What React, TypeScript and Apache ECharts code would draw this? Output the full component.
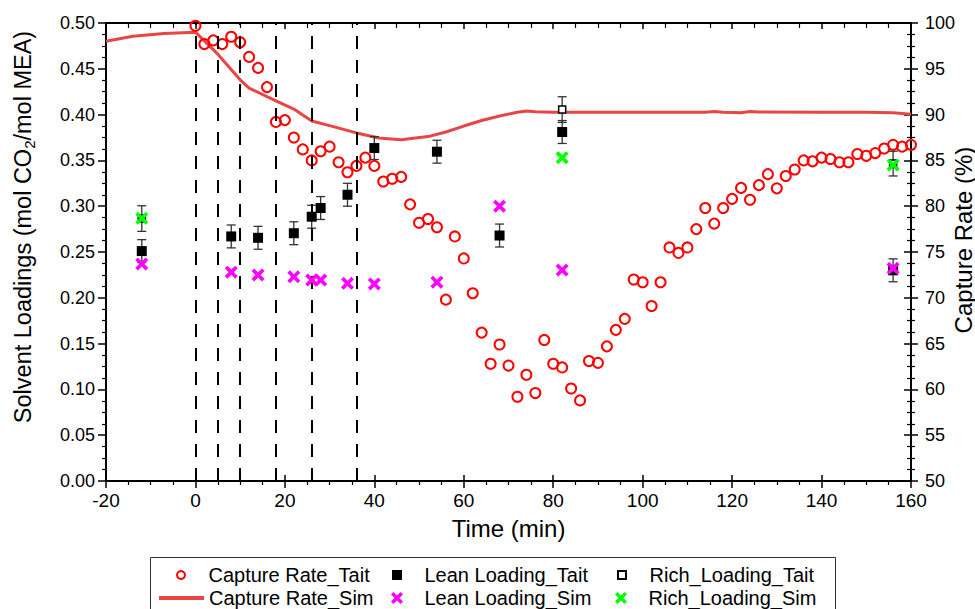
import React, { useEffect, useRef } from "react";
import * as echarts from "echarts";

const FONT = '"Liberation Sans", Arial, Helvetica, sans-serif';

// Capture Rate_Tait (right axis, %)
const captureTime = [0, 2, 4, 6, 8, 10, 12, 14, 16, 18, 20, 22, 24, 26, 28, 30, 32, 34, 36, 38, 40, 42, 44, 46, 48, 50, 52, 54, 56, 58, 60, 62, 64, 66, 68, 70, 72, 74, 76, 78, 80, 82, 84, 86, 88, 90, 92, 94, 96, 98, 100, 102, 104, 106, 108, 110, 112, 114, 116, 118, 120, 122, 124, 126, 128, 130, 132, 134, 136, 138, 140, 142, 144, 146, 148, 150, 152, 154, 156, 158, 160];
const captureTait = [99.7, 97.7, 98.1, 97.7, 98.5, 97.9, 96.3, 95.1, 93.0, 89.2, 89.4, 87.5, 86.2, 85.0, 86.0, 86.5, 84.8, 83.7, 84.4, 85.3, 84.4, 82.7, 83.0, 83.2, 80.2, 78.2, 78.6, 77.7, 69.8, 76.7, 74.3, 70.5, 66.2, 62.8, 64.9, 62.6, 59.2, 61.6, 59.6, 65.4, 62.8, 62.4, 60.1, 58.8, 63.1, 62.9, 64.7, 66.5, 67.7, 72.0, 71.7, 69.1, 71.7, 75.5, 74.9, 75.5, 77.5, 79.8, 78.1, 79.8, 80.8, 82.0, 80.7, 82.3, 83.5, 81.95, 83.3, 84.0, 85.0, 84.9, 85.3, 85.15, 84.8, 84.8, 85.7, 85.5, 85.8, 86.3, 86.7, 86.5, 86.7];

// Capture Rate_Sim (right axis, %)
const simTime = [-20, -14, -7, 0, 5, 10, 12, 18, 22, 26, 30, 36, 41, 46, 52, 56, 60, 64, 68, 72, 74, 76, 80, 90, 100, 110, 114, 116, 118, 122, 124, 126, 140, 150, 156, 160];
const captureSim = [98.0, 98.55, 98.85, 99.0, 96.6, 93.8, 92.9, 91.5, 90.6, 89.3, 88.8, 88.0, 87.45, 87.25, 87.6, 88.1, 88.75, 89.35, 89.85, 90.25, 90.4, 90.3, 90.25, 90.25, 90.25, 90.25, 90.25, 90.35, 90.25, 90.2, 90.35, 90.28, 90.25, 90.25, 90.2, 90.05];

// Lean loading (left axis)
const leanTaitTime = [-12, 8, 14, 22, 26, 28, 34, 40, 54, 68, 82, 156];
const leanTait = [0.251, 0.267, 0.2655, 0.2705, 0.2885, 0.298, 0.3125, 0.3635, 0.3595, 0.268, 0.381, 0.230];
const leanTaitErr = [0.0125, 0.0125, 0.0125, 0.0125, 0.0125, 0.0125, 0.0125, 0.0125, 0.0125, 0.0125, 0.0125, 0.0125];

const leanSimTime = [-12, 8, 14, 22, 26, 28, 34, 40, 54, 68, 82, 156];
const leanSim = [0.237, 0.228, 0.225, 0.223, 0.2194, 0.2194, 0.2158, 0.2151, 0.217, 0.300, 0.2303, 0.2322];

// Rich loading (left axis)
const richTaitTime = [-12, 82, 156];
const richTait = [0.2865, 0.4055, 0.3465];
const richTaitErr = [0.014, 0.014, 0.0135];

const richSimTime = [-12, 82, 156];
const richSim = [0.2868, 0.353, 0.345];

// Vertical dashed markers (min)
const dashTimes = [0, 5, 10, 18, 26, 36];

const X_PATH = "path://M0,2L2,0L5,3L8,0L10,2L7,5L10,8L8,10L5,7L2,10L0,8L3,5Z";
const SQ_PATH = "path://M0,0L10,0L10,10L0,10Z";

function errRender(capHalf: number) {
  return (params: any, api: any) => {
    const x = api.value(0);
    const y = api.value(1);
    const e = api.value(2);
    const hi = api.coord([x, y + e]);
    const lo = api.coord([x, y - e]);
    const st = { stroke: "#333", lineWidth: 1.3 };
    return {
      type: "group",
      children: [
        { type: "line", shape: { x1: hi[0], y1: hi[1], x2: lo[0], y2: lo[1] }, style: st },
        { type: "line", shape: { x1: hi[0] - capHalf, y1: hi[1], x2: hi[0] + capHalf, y2: hi[1] }, style: st },
        { type: "line", shape: { x1: lo[0] - capHalf, y1: lo[1], x2: lo[0] + capHalf, y2: lo[1] }, style: st },
      ],
    };
  };
}

function legendItem(item: any, left: number, top: number, w: number, h: number) {
  return {
    data: [item],
    left,
    top,
    padding: 0,
    itemWidth: w,
    itemHeight: h,
    itemGap: 0,
    selectedMode: false,
    textStyle: { fontFamily: FONT, fontSize: 20, color: "#000" },
  };
}

export default function App() {
  const ref = useRef<HTMLDivElement>(null);
  useEffect(() => {
    if (!ref.current) return;
    const chart = echarts.init(ref.current, undefined, { renderer: "svg" });
    const axisLine = { show: true, onZero: false, lineStyle: { color: "#000", width: 2 } };
    const noLine = { show: false, onZero: false };
    const option: any = {
      animation: false,
      backgroundColor: "#fff",
      grid: { left: 106, right: 64, top: 23, bottom: 128, containLabel: false, outerBoundsMode: "none" },
      xAxis: [
        {
          type: "value",
          position: "bottom",
          min: -20,
          max: 160,
          interval: 20,
          axisLine,
          axisTick: { show: true, inside: false, length: 7, lineStyle: { color: "#000", width: 1.5 } },
          minorTick: { show: true, splitNumber: 4, length: 4, lineStyle: { color: "#000", width: 1.2 } },
          splitLine: { show: false },
          axisLabel: { fontFamily: FONT, fontSize: 19, color: "#000", margin: 10 },
          name: "Time (min)",
          nameLocation: "middle",
          nameGap: 35,
          nameTextStyle: { fontFamily: FONT, fontSize: 24, color: "#000" },
        },
        {
          type: "value",
          position: "top",
          min: -20,
          max: 160,
          interval: 20,
          axisLine,
          axisTick: { show: true, inside: true, length: 6, lineStyle: { color: "#000", width: 1.5 } },
          minorTick: { show: true, splitNumber: 4, length: 5, lineStyle: { color: "#000", width: 1.2 } },
          splitLine: { show: false },
          axisLabel: { show: false },
        },
        {
          type: "value",
          position: "bottom",
          min: -20,
          max: 160,
          interval: 20,
          axisLine: noLine,
          axisTick: { show: true, inside: true, length: 6, lineStyle: { color: "#000", width: 1.5 } },
          splitLine: { show: false },
          axisLabel: { show: false },
        },
      ],
      yAxis: [
        {
          type: "value",
          position: "left",
          min: 0,
          max: 0.5,
          interval: 0.05,
          axisLine,
          axisTick: { show: true, inside: false, length: 8, lineStyle: { color: "#000", width: 1.5 } },
          minorTick: { show: true, splitNumber: 4, length: 4, lineStyle: { color: "#000", width: 1.2 } },
          splitLine: { show: false },
          axisLabel: {
            fontFamily: FONT,
            fontSize: 18,
            color: "#000",
            margin: 11,
            formatter: (v: number) => v.toFixed(2),
          },
        },
        {
          type: "value",
          position: "right",
          min: 50,
          max: 100,
          interval: 5,
          axisLine,
          axisTick: { show: true, inside: false, length: 7, lineStyle: { color: "#000", width: 1.5 } },
          minorTick: { show: true, splitNumber: 4, length: 4, lineStyle: { color: "#000", width: 1.2 } },
          splitLine: { show: false },
          axisLabel: { fontFamily: FONT, fontSize: 18, color: "#000", margin: 14 },
        },
        {
          type: "value",
          position: "right",
          min: 50,
          max: 100,
          interval: 5,
          axisLine: noLine,
          axisTick: { show: true, inside: true, length: 7, lineStyle: { color: "#000", width: 1.5 } },
          minorTick: { show: true, splitNumber: 4, length: 4, lineStyle: { color: "#000", width: 1.2 } },
          splitLine: { show: false },
          axisLabel: { show: false },
        },
      ],
      legend: [
        legendItem({ name: "Capture Rate_Tait" }, 176, 565, 45, 8),
        legendItem(
          { name: "Capture Rate_Sim", itemStyle: { color: "rgba(0,0,0,0)", borderWidth: 0, opacity: 0 }, lineStyle: { width: 4 } },
          157,
          588,
          45,
          10
        ),
        legendItem({ name: "Lean Loading_Tait" }, 392, 565, 45, 10),
        legendItem({ name: "Lean Loading_Sim" }, 391, 588, 45, 12),
        legendItem({ name: "Rich_Loading_Tait" }, 617, 565, 45, 8),
        legendItem({ name: "Rich_Loading_Sim" }, 615, 588, 45, 12),
      ],
      graphic: [
        {
          type: "rect",
          shape: { x: 150.5, y: 557.5, width: 685, height: 80 },
          style: { fill: "none", stroke: "#333", lineWidth: 1 },
          z: 0,
        },
        {
          type: "text",
          x: 23,
          y: 227,
          rotation: Math.PI / 2,
          style: {
            text: "Solvent Loadings (mol CO{sub|2}/mol MEA)",
            fontFamily: FONT,
            fontSize: 23.5,
            fill: "#000",
            align: "center",
            verticalAlign: "middle",
            textAlign: "center",
            textVerticalAlign: "middle",
            rich: { sub: { fontFamily: FONT, fontSize: 15, fill: "#000", padding: [12, 0, 0, 0] } },
          },
        },
        {
          type: "text",
          x: 963,
          y: 240,
          rotation: Math.PI / 2,
          style: {
            text: "Capture Rate (%)",
            fontFamily: FONT,
            fontSize: 24,
            fill: "#000",
            align: "center",
            verticalAlign: "middle",
            textAlign: "center",
            textVerticalAlign: "middle",
          },
        },
      ],
      series: [
        {
          name: "Capture Rate_Sim",
          type: "line",
          yAxisIndex: 1,
          data: simTime.map((t, i) => [t, captureSim[i]]),
          symbol: "none",
          lineStyle: { color: "#e84545", width: 3 },
          itemStyle: { color: "#e84545" },
          z: 2,
        },
        {
          name: "Capture Rate_Tait",
          type: "scatter",
          yAxisIndex: 1,
          data: captureTime.map((t, i) => [t, captureTait[i]]),
          symbol: "circle",
          symbolSize: 10,
          itemStyle: { color: "rgba(255,255,255,0)", borderColor: "#ff0000", borderWidth: 2, opacity: 1 },
          z: 3,
          markLine: {
            silent: true,
            symbol: ["none", "none"],
            label: { show: false },
            lineStyle: { color: "#000", width: 2, type: [13, 11] },
            data: dashTimes.map((t) => ({ xAxis: t })),
          },
        },
        {
          name: "lean-err",
          type: "custom",
          yAxisIndex: 0,
          renderItem: errRender(4.5),
          data: leanTaitTime.map((t, i) => [t, leanTait[i], leanTaitErr[i]]),
          encode: { x: 0, y: 1 },
          z: 4,
        },
        {
          name: "rich-err",
          type: "custom",
          yAxisIndex: 0,
          renderItem: errRender(4.5),
          data: richTaitTime.map((t, i) => [t, richTait[i], richTaitErr[i]]),
          encode: { x: 0, y: 1 },
          z: 4,
        },
        {
          name: "Lean Loading_Tait",
          type: "scatter",
          yAxisIndex: 0,
          data: leanTaitTime.map((t, i) => [t, leanTait[i]]),
          symbol: SQ_PATH,
          symbolSize: 10,
          itemStyle: { color: "#000", opacity: 1 },
          z: 5,
        },
        {
          name: "Rich_Loading_Tait",
          type: "scatter",
          yAxisIndex: 0,
          data: richTaitTime.map((t, i) => [t, richTait[i]]),
          symbol: SQ_PATH,
          symbolSize: 7,
          itemStyle: { color: "#fff", borderColor: "#000", borderWidth: 1.5, opacity: 1 },
          z: 5,
        },
        {
          name: "Lean Loading_Sim",
          type: "scatter",
          yAxisIndex: 0,
          data: leanSimTime.map((t, i) => [t, leanSim[i]]),
          symbol: X_PATH,
          symbolSize: 13,
          itemStyle: { color: "#ff00ff", opacity: 1 },
          z: 6,
        },
        {
          name: "Rich_Loading_Sim",
          type: "scatter",
          yAxisIndex: 0,
          data: richSimTime.map((t, i) => [t, richSim[i]]),
          symbol: X_PATH,
          symbolSize: 13,
          itemStyle: { color: "#00ff00", opacity: 1 },
          z: 6,
        },
      ],
    };
    chart.setOption(option);
    return () => chart.dispose();
  }, []);
  return (
    <div
      ref={ref}
      style={{ position: "fixed", left: 0, top: 0, width: 975, height: 609, background: "#fff" }}
    />
  );
}
